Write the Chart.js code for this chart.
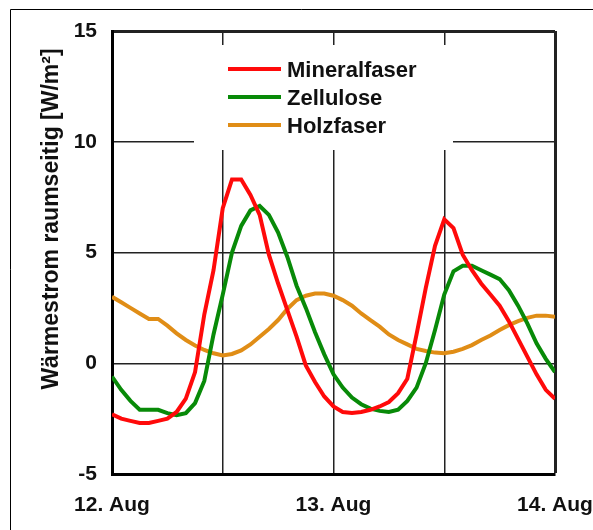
<!DOCTYPE html>
<html><head><meta charset="utf-8">
<script src="https://cdn.jsdelivr.net/npm/chart.js@4"></script>
<style>html,body{margin:0;padding:0;background:#fff;} canvas{display:block;}</style>
</head><body>
<canvas id="c" width="593" height="530"></canvas>
<script>
const hours = [0,1,2,3,4,5,6,7,8,9,10,11,12,13,14,15,16,17,18,19,20,21,22,23,24,25,26,27,28,29,30,31,32,33,34,35,36,37,38,39,40,41,42,43,44,45,46,47,48];
const mineralfaser = [-2.3,-2.5,-2.6,-2.7,-2.7,-2.6,-2.5,-2.2,-1.6,-0.4,2.2,4.2,7.0,8.3,8.3,7.6,6.7,4.9,3.6,2.4,1.2,-0.1,-0.85,-1.5,-1.95,-2.2,-2.25,-2.2,-2.1,-1.95,-1.75,-1.35,-0.7,1.3,3.4,5.3,6.5,6.1,4.9,4.2,3.6,3.1,2.6,1.9,1.1,0.3,-0.5,-1.2,-1.6];
const zellulose = [-0.6,-1.2,-1.7,-2.1,-2.1,-2.1,-2.25,-2.35,-2.25,-1.8,-0.8,1.3,3.1,5.0,6.2,6.9,7.1,6.7,5.9,4.8,3.5,2.5,1.4,0.4,-0.5,-1.1,-1.55,-1.85,-2.05,-2.15,-2.2,-2.1,-1.7,-1.1,0.0,1.5,3.1,4.15,4.4,4.4,4.2,4.0,3.8,3.3,2.6,1.8,0.9,0.2,-0.4];
const holzfaser = [3.0,2.75,2.5,2.25,2.0,2.0,1.7,1.35,1.05,0.8,0.6,0.45,0.35,0.42,0.58,0.85,1.2,1.55,1.95,2.45,2.85,3.05,3.15,3.15,3.05,2.85,2.6,2.25,1.95,1.65,1.3,1.05,0.85,0.65,0.55,0.48,0.45,0.52,0.65,0.82,1.05,1.25,1.5,1.72,1.9,2.05,2.15,2.15,2.1];
const seriesNames = ['Mineralfaser','Zellulose','Holzfaser'];
const seriesColors = ['#ff0a0a','#088a08','#e08d16'];
const dayHours = [0,24,48];
const dayLabels = ['12. Aug','13. Aug','14. Aug'];
const yTitle = 'Wärmestrom raumseitig [W/m²]';

const FONT = '"Liberation Sans", Arial, sans-serif';
const seriesValues = [mineralfaser, zellulose, holzfaser];

const deco = {
  id: 'deco',
  beforeDatasetsDraw(chart) {
    const ctx = chart.ctx;
    ctx.save();
    ctx.fillStyle = '#fff';
    ctx.fillRect(194, 45, 259, 105);
    ctx.restore();
  },
  afterDraw(chart) {
    const ctx = chart.ctx;
    ctx.save();
    // legend
    ctx.font = 'bold 22px ' + FONT;
    ctx.textBaseline = 'alphabetic';
    ctx.textAlign = 'left';
    seriesNames.forEach((n, i) => {
      const y = 69 + 28 * i;
      ctx.strokeStyle = seriesColors[i];
      ctx.lineWidth = 4;
      ctx.beginPath();
      ctx.moveTo(228, y);
      ctx.lineTo(281, y);
      ctx.stroke();
      ctx.fillStyle = '#111';
      ctx.fillText(n, 287, y + 8);
    });
    // y title
    ctx.save();
    ctx.translate(58, 219);
    ctx.rotate(-Math.PI / 2);
    ctx.font = 'bold 23px ' + FONT;
    ctx.textAlign = 'center';
    ctx.textBaseline = 'alphabetic';
    ctx.fillStyle = '#111';
    ctx.fillText(yTitle, 0, 0);
    ctx.restore();
    // outer frame
    ctx.strokeStyle = '#000';
    ctx.lineWidth = 1;
    ctx.beginPath();
    ctx.moveTo(10.5, 530);
    ctx.lineTo(10.5, 9.5);
    ctx.lineTo(593, 9.5);
    ctx.stroke();
    ctx.restore();
  }
};

new Chart(document.getElementById('c'), {
  type: 'line',
  data: {
    datasets: seriesNames.map((n, i) => ({
      label: n,
      data: hours.map((h, k) => ({x: h, y: seriesValues[i][k]})),
      borderColor: seriesColors[i],
      backgroundColor: seriesColors[i],
      borderWidth: 4,
      pointRadius: 0,
      tension: 0,
      fill: false
    }))
  },
  options: {
    responsive: false,
    devicePixelRatio: 1,
    animation: false,
    layout: {padding: {top: 31, right: 38, bottom: 0, left: 0}},
    plugins: {legend: {display: false}, tooltip: {enabled: false}},
    scales: {
      x: {
        type: 'linear', min: 0, max: 48,
        ticks: {
          stepSize: 12, autoSkip: false, maxRotation: 0, padding: 19,
          font: {family: FONT, size: 21, weight: 'bold'}, color: '#111',
          callback: v => { const k = dayHours.indexOf(v); return k >= 0 ? dayLabels[k] : ''; }
        },
        grid: {color: '#222', lineWidth: c => (c.tick && c.tick.value === 48) ? 3 : 1.5, drawTicks: false},
        border: {display: true, color: '#000', width: 3},
        afterFit: s => { s.height = 56; s.paddingLeft = 0; s.paddingRight = 0; }
      },
      y: {
        type: 'linear', min: -5, max: 15,
        ticks: {stepSize: 5, padding: 15, font: {family: FONT, size: 21, weight: 'bold'}, color: '#111'},
        grid: {color: '#222', lineWidth: c => (c.tick && c.tick.value === 15) ? 3 : 1.5, drawTicks: false},
        border: {display: true, color: '#000', width: 3},
        afterFit: s => { s.width = 112; s.paddingTop = 0; s.paddingBottom = 0; }
      }
    }
  },
  plugins: [deco]
});
</script>
</body></html>
